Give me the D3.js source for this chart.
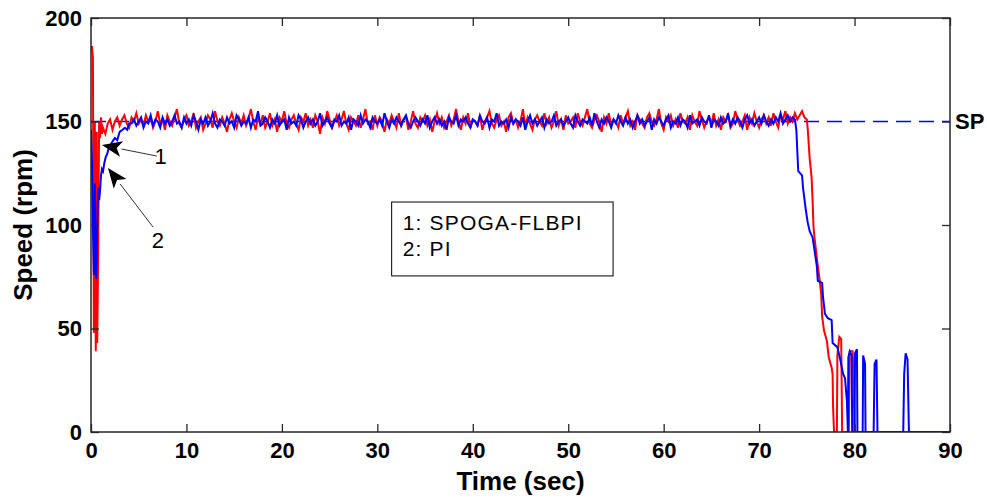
<!DOCTYPE html>
<html>
<head>
<meta charset="utf-8">
<script src="https://cdn.jsdelivr.net/npm/d3@7"></script>
<style>
  body { margin: 0; background: #fff; }
  svg { display: block; font-family: "Liberation Sans", Arial, sans-serif; }
</style>
</head>
<body>
<div id="chart"></div>
<script>
// ---- data ----
var xTicks = [0, 10, 20, 30, 40, 50, 60, 70, 80, 90];
var yTicks = [0, 50, 100, 150, 200];
var setPoint = 150;
var sampleStep = 0.25;

// SPOGA-FLBPI (red)
var redHeadT = [0, 0.1, 0.2, 0.3, 0.4, 0.5, 0.6, 0.65, 0.75, 0.85, 0.95, 1.05, 1.15];
var redHeadV = [186, 186, 181, 48, 150, 39, 145, 43, 85, 150, 142, 152, 144];
var redStart = 1.25;
var redSteady = [
  147,144,149,151,146,150,152,148,151,153,149,147,152,150,154,149,151,148,153,150,
  152,147,150,155,149,151,146,153,150,148,152,156,149,147,151,153,148,150,154,147,
  150,152,146,149,153,151,147,155,150,148,152,149,145,151,154,150,147,152,149,153,
  148,151,156,150,146,152,149,153,147,150,154,148,151,145,152,150,155,149,147,151,
  153,149,146,152,150,154,148,151,147,153,150,144,152,149,155,151,147,150,153,148,
  151,155,149,146,152,150,148,153,147,151,156,149,150,146,153,148,152,150,145,151,
  149,153,150,147,154,148,151,152,146,150,155,149,147,152,150,153,148,151,145,150,
  154,149,152,147,150,153,148,151,156,150,146,152,149,154,147,151,150,148,153,146,
  150,152,155,149,147,151,153,148,150,145,152,154,149,151,147,150,156,148,152,149,
  146,151,153,150,148,154,149,152,147,150,155,148,151,146,153,149,150,152,147,154,
  150,148,152,156,149,147,151,153,150,145,152,149,154,148,151,150,147,153,149,152,
  155,148,150,146,153,151,149,147,152,154,150,148,151,156,149,146,152,150,153,148,
  151,147,154,150,149,152,146,153,150,148,155,151,147,150,152,149,154,148,151,146,
  152,150,153,147,149,155,151,148,150,153,146,152,149,154,150,147,151,153,149,152,
  148,154,150,147,153,151,155,149,152,150,154,151,153,155,152,151
];
var redTailT = [75.1, 75.3, 75.5, 75.6, 75.7, 75.8, 76.0, 76.1, 76.3, 76.5, 76.6, 76.8, 77.1, 77.3, 77.6, 77.7, 77.75, 77.85,
                78.15, 78.2, 78.4, 78.6, 78.7, 79.4, 79.5, 79.8, 79.9, 80.0, 90];
var redTailV = [146, 132, 123, 112, 99, 94, 86, 82, 75, 67, 56, 49, 44, 36, 31, 28, 12, 0,
                0, 37, 46, 45, 0, 0, 39, 39, 26, 0, 0];

// PI (blue)
var blueHeadT = [0, 0.1, 0.2, 0.3, 0.4, 0.45, 0.55, 0.65, 0.75, 0.85, 0.94, 1.05, 1.15, 1.26, 1.4, 1.55, 1.68, 1.85,
                 2.0, 2.2, 2.5, 2.75, 3.0, 3.3, 3.56, 3.8, 4.0];
var blueHeadV = [146, 130, 100, 76, 120, 78, 74, 100, 118, 112, 116, 124, 127, 126, 130, 133, 134, 137,
                 138, 140, 142, 141, 145, 146, 147, 146, 149];
var blueStart = 4.25;
var blueSteady = [
  149,151,148,150,152,147,150,149,153,148,151,150,147,152,149,151,148,150,153,149,
  150,147,152,149,151,148,153,150,146,151,149,152,148,150,154,149,147,151,150,148,
  152,149,150,147,153,151,148,150,149,152,147,151,150,155,148,149,152,150,147,151,
  149,153,148,150,151,146,152,149,150,148,153,151,147,150,152,149,151,148,150,154,
  148,150,152,149,147,151,150,153,148,150,149,152,146,151,150,148,153,149,151,150,
  147,152,150,149,151,148,154,150,147,151,149,152,150,148,151,153,149,147,150,152,
  150,148,151,149,153,147,150,152,149,151,148,150,146,152,150,149,153,148,151,150,
  152,149,147,151,150,148,153,150,149,152,147,151,150,154,148,150,149,151,147,152,
  149,151,150,148,152,146,150,153,149,151,148,150,152,147,151,149,150,153,148,150,
  151,148,150,152,149,147,153,150,148,151,150,149,152,148,154,150,147,151,149,152,
  150,147,151,149,153,150,148,152,149,151,147,150,153,149,151,148,150,152,146,151,
  149,152,150,148,151,153,147,150,149,152,148,151,150,147,153,149,150,151,148,152,
  150,149,153,147,151,150,148,152,149,150,154,148,151,149,152,150,147,151,153,149,
  151,148,150,152,149,153,150,148,151,149,152,150,154,149,151,153,150,152,151
];
var blueTailT = [73.9, 74.0, 74.1, 74.5, 74.6, 74.9, 75.1, 75.3, 75.6, 75.8, 76.05, 76.15, 76.6, 76.7, 76.9, 77.2, 77.6, 77.7,
                 78.2, 78.5, 78.8, 79.0, 79.2, 79.3, 79.35, 79.5, 79.7, 79.75, 80.0, 80.05, 80.25, 80.3,
                 80.85, 80.9, 81.1, 81.15, 82.0, 82.1, 82.3, 82.4, 85.1, 85.2, 85.35, 85.55, 85.7, 90];
var blueTailV = [146, 136, 126, 124, 118, 107, 101, 97, 94, 88, 80, 73, 72, 65, 57, 55, 54, 43,
                 41, 35, 28, 26, 15, 0, 36, 39, 37, 0, 0, 38, 40, 0,
                 0, 37, 33, 0, 0, 33, 35, 0, 0, 28, 38, 35, 0, 0];

// annotations (data units)
var legendLines = ["1: SPOGA-FLBPI", "2: PI"];
var legendBox = { t0: 31.5, t1: 54.7, v0: 111.1, v1: 75.4 };
var arrows = [
  { label: "1", tipT: 1.15, tipV: 138.6, tailT: 6.9, tailV: 133.3, labT: 7.3, labV: 133.5 },
  { label: "2", tipT: 1.78, tipV: 127.5, tailT: 6.5, tailV: 99.0, labT: 7.0, labV: 92.8 }
];

function buildSeries(headT, headV, start, steady, tailT, tailV) {
  var pts = headT.map(function(t, i) { return [t, headV[i]]; });
  steady.forEach(function(v, i) { pts.push([start + i * sampleStep, v]); });
  tailT.forEach(function(t, i) { pts.push([t, tailV[i]]); });
  return pts;
}
var redSeries = buildSeries(redHeadT, redHeadV, redStart, redSteady, redTailT, redTailV);
var blueSeries = buildSeries(blueHeadT, blueHeadV, blueStart, blueSteady, blueTailT, blueTailV);

// ---- drawing ----
var width = 987, height = 499;
var pLeft = 91, pRight = 950, pTop = 18, pBottom = 432;

var svg = d3.select('#chart').append('svg')
            .attr('width', width)
            .attr('height', height);

var x = d3.scaleLinear().domain([0, 90]).range([pLeft, pRight]);
var y = d3.scaleLinear().domain([0, 200]).range([pBottom, pTop]);

svg.append('clipPath').attr('id', 'plotClip')
   .append('rect')
   .attr('x', pLeft).attr('y', pTop)
   .attr('width', pRight - pLeft).attr('height', pBottom - pTop);

var line = d3.line()
             .x(function(d) { return x(d[0]); })
             .y(function(d) { return y(d[1]); });

var plot = svg.append('g').attr('clip-path', 'url(#plotClip)');

// set point dashed line
plot.append('line')
    .attr('x1', x(0)).attr('x2', x(90))
    .attr('y1', y(setPoint)).attr('y2', y(setPoint))
    .attr('stroke', '#0000ff')
    .attr('stroke-width', 1.5)
    .attr('stroke-dasharray', '15,8');

plot.append('path')
    .datum(redSeries)
    .attr('d', line)
    .attr('fill', 'none')
    .attr('stroke', '#ff0000')
    .attr('stroke-width', 2);

plot.append('path')
    .datum(blueSeries)
    .attr('d', line)
    .attr('fill', 'none')
    .attr('stroke', '#0000ff')
    .attr('stroke-width', 2);

// box
svg.append('rect')
   .attr('x', pLeft).attr('y', pTop)
   .attr('width', pRight - pLeft).attr('height', pBottom - pTop)
   .attr('fill', 'none')
   .attr('stroke', '#262626')
   .attr('stroke-width', 1.5);

// axes with inner ticks
var tickLen = 8;
svg.append('g')
   .attr('transform', 'translate(0,' + pBottom + ')')
   .call(d3.axisBottom(x).tickValues(xTicks).tickSizeInner(-tickLen).tickSizeOuter(0).tickPadding(10))
   .call(function(g) { g.select('.domain').remove(); });
svg.append('g')
   .attr('transform', 'translate(0,' + pTop + ')')
   .call(d3.axisTop(x).tickValues(xTicks).tickSizeInner(-tickLen).tickSizeOuter(0).tickFormat(''))
   .call(function(g) { g.select('.domain').remove(); });
svg.append('g')
   .attr('transform', 'translate(' + pLeft + ',0)')
   .call(d3.axisLeft(y).tickValues(yTicks).tickSizeInner(-tickLen).tickSizeOuter(0).tickPadding(9))
   .call(function(g) { g.select('.domain').remove(); });
svg.append('g')
   .attr('transform', 'translate(' + pRight + ',0)')
   .call(d3.axisRight(y).tickValues(yTicks).tickSizeInner(-tickLen).tickSizeOuter(0).tickFormat(''))
   .call(function(g) { g.select('.domain').remove(); });

svg.selectAll('.tick line').attr('stroke', '#262626').attr('stroke-width', 1.3);
svg.selectAll('.tick text')
   .attr('fill', '#000')
   .attr('font-size', '22px')
   .attr('font-weight', 'bold')
   .attr('font-family', '"Liberation Sans", Arial, sans-serif');

// axis labels
svg.append('text')
   .attr('x', (pLeft + pRight) / 2)
   .attr('y', 490)
   .attr('text-anchor', 'middle')
   .attr('font-size', '26px')
   .attr('font-weight', 'bold')
   .text('Time (sec)');

svg.append('text')
   .attr('transform', 'translate(32,' + ((pTop + pBottom) / 2) + ') rotate(-90)')
   .attr('text-anchor', 'middle')
   .attr('font-size', '26px')
   .attr('font-weight', 'bold')
   .text('Speed (rpm)');

// SP label
svg.append('text')
   .attr('x', pRight + 5)
   .attr('y', y(setPoint))
   .attr('dy', '0.36em')
   .attr('font-size', '22px')
   .attr('font-weight', 'bold')
   .text('SP');

// legend box
svg.append('rect')
   .attr('x', x(legendBox.t0)).attr('y', y(legendBox.v0))
   .attr('width', x(legendBox.t1) - x(legendBox.t0))
   .attr('height', y(legendBox.v1) - y(legendBox.v0))
   .attr('fill', '#fff')
   .attr('stroke', '#000')
   .attr('stroke-width', 1);
svg.selectAll('.legendText')
   .data(legendLines)
   .enter().append('text')
   .attr('class', 'legendText')
   .attr('x', x(legendBox.t0) + 11)
   .attr('y', function(d, i) { return y(legendBox.v0) + 28 + i * 26; })
   .attr('font-size', '21px')
   .attr('letter-spacing', '1.2px')
   .text(function(d) { return d; });

// arrows
arrows.forEach(function(a) {
  var x1 = x(a.tailT), y1 = y(a.tailV), x2 = x(a.tipT), y2 = y(a.tipV);
  var ang = Math.atan2(y2 - y1, x2 - x1);
  var hl = 20, hw = 8;
  var bx = x2 - hl * Math.cos(ang), by = y2 - hl * Math.sin(ang);
  svg.append('line')
     .attr('x1', x1).attr('y1', y1).attr('x2', bx).attr('y2', by)
     .attr('stroke', '#333').attr('stroke-width', 1);
  svg.append('polygon')
     .attr('points', [
        [x2, y2],
        [bx + hw * Math.sin(ang), by - hw * Math.cos(ang)],
        [bx + 5 * Math.cos(ang), by + 5 * Math.sin(ang)],
        [bx - hw * Math.sin(ang), by + hw * Math.cos(ang)]
      ].map(function(p) { return p.join(','); }).join(' '))
     .attr('fill', '#000');
  svg.append('text')
     .attr('x', x(a.labT))
     .attr('y', y(a.labV))
     .attr('dy', '0.36em')
     .attr('text-anchor', 'middle')
     .attr('font-size', '22px')
     .text(a.label);
});
</script>
</body>
</html>
